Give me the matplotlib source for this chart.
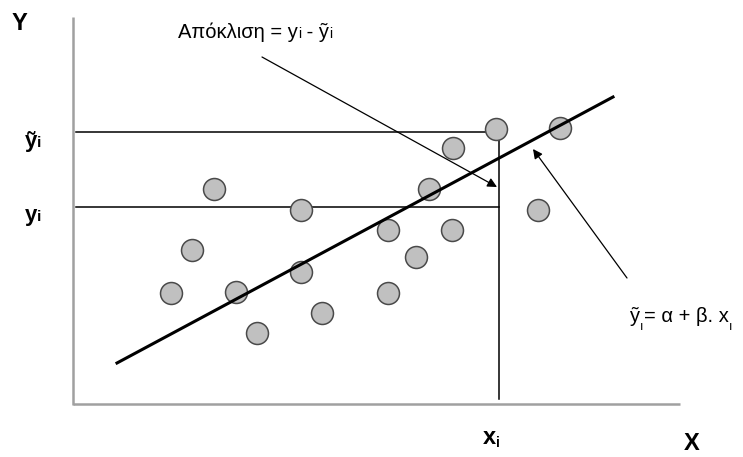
import matplotlib.pyplot as plt

# scatter points (pixel units, y grows downwards)
pts_x = [171, 192, 214, 236, 257, 301, 301, 322, 388, 388, 416, 429, 452, 453, 496, 538, 560]
pts_y = [293, 250, 189, 292, 333, 210, 272, 313, 293, 230, 257, 189, 230, 148, 129, 210, 128]

# regression line end points
line_x = [117, 613]
line_y = [363, 97]

# the chosen observation x_i and its two levels
xi = 499
y_hat = 132
y_obs = 207

fig = plt.figure(figsize=(7.43, 4.57), dpi=100)
ax = fig.add_axes([0, 0, 1, 1])
ax.set_xlim(0, 743)
ax.set_ylim(457, 0)
ax.axis('off')
renderer = fig.canvas.get_renderer()


def chain(x, y, parts, family, weight='normal'):
    # write pieces one after the other; 1 data unit == 1 pixel here
    for s, size, dy in parts:
        t = ax.text(x, y + dy, s, fontsize=size, fontfamily=family, fontweight=weight,
                    ha='left', va='baseline', color='black')
        x += t.get_window_extent(renderer).width


# axes
ax.plot([73, 73], [17, 405], color='#a0a0a0', lw=1.8, solid_capstyle='butt')
ax.plot([73, 680], [404, 404], color='#a0a0a0', lw=1.8, solid_capstyle='butt')

# guide lines
ax.plot([76, xi], [y_hat, y_hat], color='black', lw=1.1)
ax.plot([76, xi], [y_obs, y_obs], color='black', lw=1.1)
ax.plot([xi, xi], [y_hat, 399], color='black', lw=1.1)

# points
ax.scatter(pts_x, pts_y, s=250, facecolor='#c0c0c0', edgecolor='#4a4a4a', lw=1.1, zorder=3)

# fitted line
ax.plot(line_x, line_y, color='black', lw=2.2, zorder=4)

# arrows
ax.annotate('', xy=(497, 187), xytext=(262, 57),
            arrowprops=dict(arrowstyle='-|>', color='black', lw=0.9, mutation_scale=14, shrinkA=0, shrinkB=0))
ax.annotate('', xy=(533, 149), xytext=(627, 278),
            arrowprops=dict(arrowstyle='-|>', color='black', lw=0.9, mutation_scale=14, shrinkA=0, shrinkB=0))

sans = ['Liberation Sans', 'DejaVu Sans']

chain(12, 30, [('Y', 17, 0)], sans, 'bold')
chain(25, 147, [('ỹ', 16, 0), ('i', 11, 0)], sans, 'bold')
chain(25, 221, [('y', 16, 0), ('i', 11, 0)], sans, 'bold')
chain(483, 444, [('x', 17, 0), ('i', 10, 3)], sans, 'bold')
chain(684, 450, [('X', 17, 0)], sans, 'bold')

chain(178, 38, [('Απόκλιση = y', 14.5, 0), ('i', 10, 0), (' - ỹ', 14.5, 0), ('i', 10, 0)], sans)
chain(630, 322, [('ỹ', 14.5, 0), ('ı', 9, 8), ('= α + β. x', 14.5, 0), ('ı', 9, 8)], sans)

fig.savefig('out.png', dpi=100)
